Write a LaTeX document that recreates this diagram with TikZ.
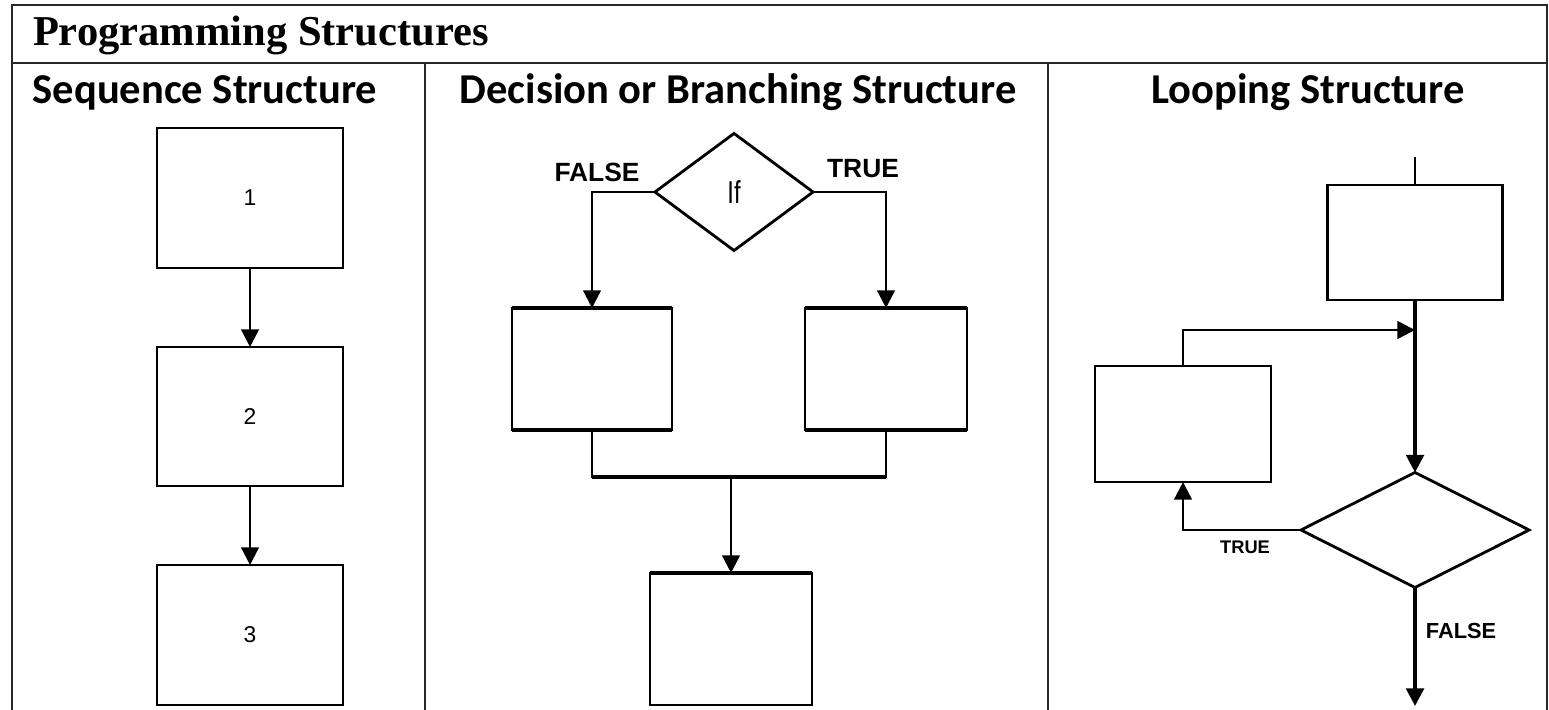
\documentclass[tikz,border=0pt]{standalone}
\usepackage{fontspec}
\setmainfont{Liberation Serif}
\newfontfamily\hdfont{Carlito}
\newfontfamily\lbfont{Liberation Sans}
\usetikzlibrary{positioning, shapes.geometric, arrows.meta}
\definecolor{psInk}{RGB}{0, 0, 0}
\definecolor{psRule}{RGB}{40, 40, 40}
\tikzset{
    base/.style={
        inner sep=0pt,
        outer sep=0pt,
        text=psInk
    },
    block/.style={
        base,
        rectangle,
        draw=psInk,
        line width=0.8pt
    },
    test/.style={
        base,
        diamond,
        draw=psInk,
        line width=0.8pt
    },
    flow/.style={
        -{Triangle[width=5pt, length=5pt]},
        line width=0.7pt,
        color=psInk
    },
    link/.style={
        line width=0.7pt,
        color=psInk
    },
    heavy/.style={
        line width=1.3pt,
        color=psInk
    },
    rule/.style={
        line width=0.6pt,
        color=psRule
    },
    title/.style={
        base,
        font=\fontsize{12.1}{14}\selectfont\bfseries
    },
    header/.style={
        base,
        font=\hdfont\fontsize{12.1}{14}\selectfont\bfseries
    },
    tag/.style={
        base,
        font=\lbfont\fontsize{7.5}{9}\selectfont\bfseries
    },
    digit/.style={
        base,
        font=\lbfont\fontsize{6.5}{7}\selectfont
    }
}

\begin{document}
\begin{tikzpicture}[x=0.01cm, y=-0.01cm]
    \useasboundingbox (0,0) rectangle (1549,710);

    % Table
    \draw[rule] (12,710) -- (12,5) -- (1547,5) -- (1547,710);
    \draw[rule] (12,63) -- (1547,63);
    \draw[rule] (425,63) -- (425,710);
    \draw[rule] (1048,63) -- (1048,710);
    \node[title, anchor=base west] (ttl) at (33,46) {Programming Structures};
    \node[header, anchor=base] (hseq) at (205,104) {Sequence Structure};
    \node[header, anchor=base] (hdec) at (738,104) {Decision or Branching Structure};
    \node[header, anchor=base] (hloop) at (1308,104) {Looping Structure};

    % Sequence
    \node[block, minimum width=1.86cm, minimum height=1.40cm] (seq1) at (250,198) {};
    \node[block, minimum width=1.86cm, minimum height=1.39cm] (seq2) at (250,416.5) {};
    \node[block, minimum width=1.86cm, minimum height=1.40cm] (seq3) at (250,635) {};
    \node[digit] at (seq1) {1};
    \node[digit] at (seq2) {2};
    \node[digit] at (seq3) {3};
    \draw[flow] (seq1) -- (seq2);
    \draw[flow] (seq2) -- (seq3);

    % Decision
    \node[test, minimum width=1.58cm, minimum height=1.17cm] (ifd) at (734,192) {};
    \node[base, font=\lbfont\fontsize{9}{10}\selectfont, xscale=0.75] at (ifd) {If};
    \node[block, minimum width=1.60cm, minimum height=1.22cm] (dfalse) at (592,369) {};
    \node[block, minimum width=1.62cm, minimum height=1.22cm] (dtrue) at (886,369) {};
    \node[block, minimum width=1.62cm, minimum height=1.32cm] (dend) at (731,639) {};
    \foreach \b in {dfalse, dtrue, dend} {
        \draw[heavy] (\b.north west) -- (\b.north east);
    }
    \draw[heavy] (dfalse.south west) -- (dfalse.south east);
    \draw[heavy] (dtrue.south west) -- (dtrue.south east);
    \draw[flow] (ifd.west) -| (dfalse.north);
    \draw[flow] (ifd.east) -| (dtrue.north);
    \coordinate (join) at (731,477);
    \draw[link] (dfalse.south) |- (join) -| (dtrue.south);
    \draw[heavy] (dfalse.south |- join) -- (dtrue.south |- join);
    \draw[flow] (join) -- (dend.north);
    \node[tag, anchor=base] at (597,182) {FALSE};
    \node[tag, anchor=base] at (863,178) {TRUE};

    % Looping
    \node[block, minimum width=1.75cm, minimum height=1.15cm] (lbody) at (1415,242.5) {};
    \node[block, minimum width=1.76cm, minimum height=1.16cm] (lstep) at (1183,424) {};
    \node[test, minimum width=2.28cm, minimum height=1.15cm] (ltest) at (1415,530) {};
    \coordinate (lin) at (1415,157);
    \coordinate (lmerge) at (1415,330);
    \coordinate (lexit) at (1415,706);
    \draw[link] (lin) -- (lbody.north);
    \draw[flow, line width=1pt] (lbody.south) -- (ltest.north);
    \draw[flow] (lstep.north) |- (lmerge);
    \draw[flow] (ltest.west) -| (lstep.south);
    \draw[flow, line width=1pt] (ltest.south) -- (lexit);
    \node[tag, font=\lbfont\fontsize{5.2}{6}\selectfont\bfseries, anchor=base] at (1245,554) {TRUE};
    \node[tag, font=\lbfont\fontsize{6.2}{7}\selectfont\bfseries, anchor=base] at (1461,638) {FALSE};
\end{tikzpicture}
\end{document}
